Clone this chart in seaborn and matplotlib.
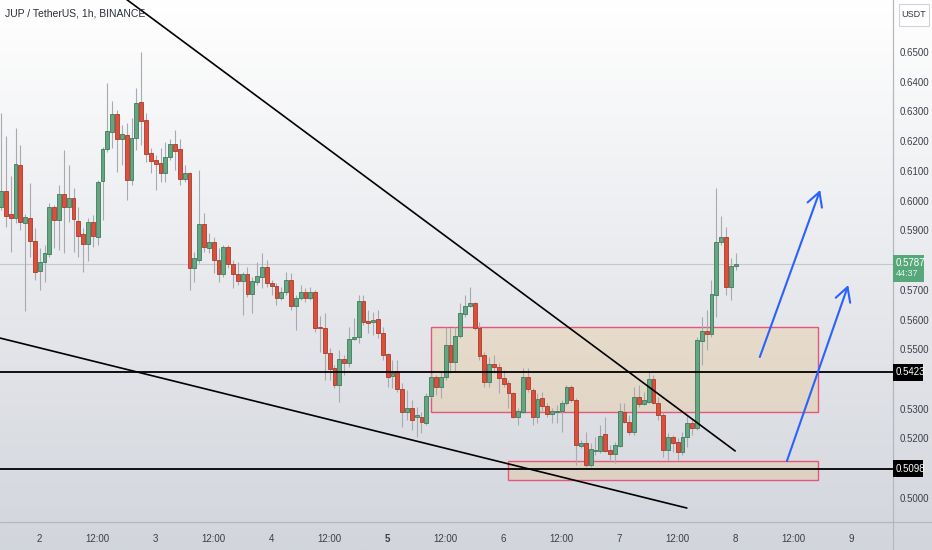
import numpy as np
import pandas as pd
import matplotlib
matplotlib.use("Agg")
import matplotlib.pyplot as plt
import seaborn as sns
from matplotlib.colors import LinearSegmentedColormap
from matplotlib.patches import Rectangle
from matplotlib.lines import Line2D

# ---------------- data: JUP/USDT 1h candles, hour 0 = day 2 00:00
hours = list(range(-8, 145))
opens = [0.5979, 0.6032, 0.5955, 0.5942, 0.6120, 0.5925, 0.5942, 0.5864, 0.5763, 0.5794,
         0.5821, 0.5979, 0.5935, 0.6022, 0.5979, 0.6009, 0.5932, 0.5888, 0.5854, 0.5928,
         0.5878, 0.6066, 0.6174, 0.6231, 0.6291, 0.6207, 0.6221, 0.6070, 0.6211, 0.6332,
         0.6271, 0.6160, 0.6137, 0.6127, 0.6093, 0.6147, 0.6191, 0.6174, 0.6073, 0.6093,
         0.5773, 0.5800, 0.5921, 0.5841, 0.5861, 0.5800, 0.5753, 0.5844, 0.5787, 0.5753,
         0.5730, 0.5753, 0.5686, 0.5726, 0.5743, 0.5777, 0.5723, 0.5713, 0.5673, 0.5693,
         0.5733, 0.5646, 0.5673, 0.5693, 0.5673, 0.5693, 0.5575, 0.5572, 0.5488, 0.5437,
         0.5380, 0.5467, 0.5454, 0.5535, 0.5541, 0.5662, 0.5595, 0.5592, 0.5602, 0.5555,
         0.5484, 0.5410, 0.5427, 0.5366, 0.5289, 0.5302, 0.5272, 0.5272, 0.5252, 0.5343,
         0.5407, 0.5373, 0.5407, 0.5514, 0.5457, 0.5545, 0.5619, 0.5646, 0.5656, 0.5572,
         0.5481, 0.5390, 0.5450, 0.5440, 0.5403, 0.5387, 0.5353, 0.5272, 0.5289, 0.5407,
         0.5363, 0.5272, 0.5336, 0.5309, 0.5282, 0.5289, 0.5292, 0.5319, 0.5373, 0.5329,
         0.5175, 0.5185, 0.5111, 0.5158, 0.5158, 0.5215, 0.5161, 0.5148, 0.5175, 0.5289,
         0.5255, 0.5222, 0.5339, 0.5316, 0.5323, 0.5400, 0.5319, 0.5279, 0.5161, 0.5205,
         0.5188, 0.5154, 0.5205, 0.5252, 0.5235, 0.5528, 0.5562, 0.5551, 0.5683, 0.5861,
         0.5878, 0.5710, 0.5780]
highs = [0.6295, 0.6218, 0.6083, 0.6244, 0.6187, 0.5955, 0.6059, 0.5908, 0.5841, 0.5851,
         0.5992, 0.5985, 0.6053, 0.6171, 0.6120, 0.6043, 0.5979, 0.5908, 0.5942, 0.5952,
         0.6070, 0.6180, 0.6396, 0.6335, 0.6305, 0.6255, 0.6261, 0.6278, 0.6379, 0.6500,
         0.6295, 0.6177, 0.6154, 0.6177, 0.6197, 0.6207, 0.6238, 0.6207, 0.6120, 0.6096,
         0.5827, 0.6103, 0.5958, 0.5891, 0.5878, 0.5841, 0.5851, 0.5851, 0.5800, 0.5794,
         0.5760, 0.5777, 0.5743, 0.5794, 0.5824, 0.5800, 0.5733, 0.5723, 0.5710, 0.5760,
         0.5757, 0.5683, 0.5716, 0.5706, 0.5710, 0.5699, 0.5612, 0.5622, 0.5504, 0.5447,
         0.5498, 0.5481, 0.5575, 0.5605, 0.5683, 0.5683, 0.5632, 0.5625, 0.5632, 0.5575,
         0.5488, 0.5464, 0.5464, 0.5387, 0.5363, 0.5329, 0.5306, 0.5289, 0.5353, 0.5420,
         0.5413, 0.5424, 0.5575, 0.5572, 0.5575, 0.5656, 0.5683, 0.5710, 0.5659, 0.5592,
         0.5491, 0.5474, 0.5481, 0.5454, 0.5430, 0.5397, 0.5356, 0.5302, 0.5437, 0.5437,
         0.5370, 0.5353, 0.5356, 0.5319, 0.5302, 0.5313, 0.5329, 0.5380, 0.5380, 0.5336,
         0.5195, 0.5222, 0.5185, 0.5205, 0.5245, 0.5272, 0.5178, 0.5188, 0.5319, 0.5319,
         0.5279, 0.5373, 0.5380, 0.5356, 0.5424, 0.5413, 0.5339, 0.5289, 0.5218, 0.5212,
         0.5202, 0.5222, 0.5279, 0.5269, 0.5541, 0.5609, 0.5632, 0.5733, 0.6043, 0.5948,
         0.5911, 0.5807, 0.5824]
lows = [0.5969, 0.5911, 0.5827, 0.5925, 0.5901, 0.5630, 0.5810, 0.5733, 0.5699, 0.5726,
        0.5810, 0.5841, 0.5834, 0.5824, 0.5928, 0.5827, 0.5810, 0.5760, 0.5797, 0.5844,
        0.5851, 0.5935, 0.6164, 0.6177, 0.6096, 0.6120, 0.6002, 0.6053, 0.6171, 0.6187,
        0.6130, 0.6093, 0.6036, 0.6063, 0.6063, 0.6137, 0.6103, 0.6053, 0.6063, 0.5699,
        0.5726, 0.5790, 0.5827, 0.5824, 0.5757, 0.5726, 0.5743, 0.5773, 0.5706, 0.5716,
        0.5615, 0.5676, 0.5622, 0.5716, 0.5706, 0.5710, 0.5683, 0.5649, 0.5666, 0.5683,
        0.5632, 0.5565, 0.5666, 0.5659, 0.5666, 0.5558, 0.5491, 0.5397, 0.5397, 0.5370,
        0.5323, 0.5414, 0.5440, 0.5531, 0.5521, 0.5582, 0.5555, 0.5548, 0.5538, 0.5464,
        0.5373, 0.5370, 0.5356, 0.5239, 0.5262, 0.5228, 0.5205, 0.5218, 0.5245, 0.5336,
        0.5346, 0.5336, 0.5397, 0.5420, 0.5424, 0.5538, 0.5609, 0.5642, 0.5565, 0.5464,
        0.5373, 0.5373, 0.5420, 0.5353, 0.5373, 0.5302, 0.5269, 0.5245, 0.5286, 0.5356,
        0.5245, 0.5252, 0.5289, 0.5272, 0.5252, 0.5252, 0.5222, 0.5313, 0.5323, 0.5111,
        0.5168, 0.5104, 0.5104, 0.5144, 0.5151, 0.5154, 0.5128, 0.5118, 0.5171, 0.5252,
        0.5212, 0.5212, 0.5306, 0.5313, 0.5319, 0.5316, 0.5262, 0.5138, 0.5128, 0.5154,
        0.5128, 0.5144, 0.5171, 0.5212, 0.5228, 0.5447, 0.5498, 0.5541, 0.5609, 0.5851,
        0.5683, 0.5666, 0.5767]
closes = [0.6032, 0.5948, 0.5942, 0.6123, 0.5928, 0.5945, 0.5864, 0.5760, 0.5794, 0.5824,
          0.5979, 0.5935, 0.6022, 0.5979, 0.6009, 0.5938, 0.5881, 0.5854, 0.5928, 0.5881,
          0.6063, 0.6174, 0.6234, 0.6291, 0.6207, 0.6224, 0.6070, 0.6211, 0.6329, 0.6268,
          0.6157, 0.6133, 0.6123, 0.6093, 0.6147, 0.6191, 0.6167, 0.6073, 0.6093, 0.5773,
          0.5807, 0.5921, 0.5844, 0.5861, 0.5800, 0.5753, 0.5844, 0.5787, 0.5753, 0.5730,
          0.5753, 0.5686, 0.5730, 0.5747, 0.5777, 0.5723, 0.5713, 0.5673, 0.5693, 0.5733,
          0.5646, 0.5673, 0.5693, 0.5673, 0.5693, 0.5572, 0.5572, 0.5488, 0.5434, 0.5380,
          0.5467, 0.5454, 0.5535, 0.5541, 0.5662, 0.5592, 0.5588, 0.5598, 0.5555, 0.5481,
          0.5407, 0.5420, 0.5366, 0.5289, 0.5302, 0.5262, 0.5279, 0.5255, 0.5343, 0.5407,
          0.5373, 0.5407, 0.5514, 0.5457, 0.5545, 0.5622, 0.5646, 0.5656, 0.5572, 0.5477,
          0.5390, 0.5450, 0.5440, 0.5403, 0.5383, 0.5353, 0.5272, 0.5292, 0.5407, 0.5366,
          0.5272, 0.5333, 0.5309, 0.5282, 0.5292, 0.5292, 0.5319, 0.5373, 0.5329, 0.5178,
          0.5185, 0.5111, 0.5165, 0.5161, 0.5208, 0.5158, 0.5148, 0.5178, 0.5292, 0.5255,
          0.5222, 0.5339, 0.5316, 0.5329, 0.5400, 0.5319, 0.5279, 0.5161, 0.5205, 0.5185,
          0.5154, 0.5205, 0.5252, 0.5235, 0.5531, 0.5562, 0.5551, 0.5686, 0.5861, 0.5878,
          0.5710, 0.5780, 0.5787]

time_ticks = list(range(0, 169, 12))
time_labels = ["2", "12:00", "3", "12:00", "4", "12:00", "5", "12:00",
               "6", "12:00", "7", "12:00", "8", "12:00", "9"]
price_ticks = [0.50, 0.52, 0.53, 0.55, 0.56, 0.57, 0.59, 0.60,
               0.61, 0.62, 0.63, 0.64, 0.65]

levels = [0.5423, 0.5098]
last_price = 0.5787
countdown = "44:37"

# drawings: (hour, price) anchors
upper_trend_x = [12.0, 143.9]
upper_trend_y = [0.6749, 0.5158]
lower_trend_x = [-10.0, 133.9]
lower_trend_y = [0.5545, 0.4966]

zone_x0 = [81.0, 96.9]
zone_x1 = [161.0, 161.0]
zone_lo = [0.5289, 0.5060]
zone_hi = [0.5576, 0.5124]

arrow_x0 = [149.0, 154.6]
arrow_y0 = [0.5474, 0.5124]
arrow_x1 = [161.5, 167.3]
arrow_y1 = [0.6036, 0.5716]

# ---------------- figure
sns.set_theme(style="white")
plt.rcParams["font.family"] = ["Liberation Sans Narrow", "Liberation Sans", "DejaVu Sans"]

W, H = 932, 550
fig = plt.figure(figsize=(W / 100, H / 100), dpi=100)

# tradingview-ish vertical gradient background
bg = fig.add_axes([0, 0, 1, 1], zorder=0)
grad = np.linspace(0, 1, 256).reshape(-1, 1)
cmap = LinearSegmentedColormap.from_list("tv", ["#ffffff", "#d2d5dc"])
bg.imshow(grad, aspect="auto", cmap=cmap, extent=[0, 1, 0, 1], origin="upper")
bg.axis("off")

ax = fig.add_axes([0, 28 / H, 893 / W, 522 / H], zorder=1)
ax.set_facecolor("none")
ax.set_xlim(-8.21, 176.56)
ax.set_ylim(0.4919, 0.6675)

df = pd.DataFrame({"hour": hours, "open": opens, "high": highs,
                   "low": lows, "close": closes})
up = df["close"] >= df["open"]
body_lo = df[["open", "close"]].min(axis=1)
body_h = (df["close"] - df["open"]).abs().clip(lower=0.00035)

ax.vlines(df["hour"], df["low"], df["high"], color="#a8aaaf", lw=0.8, zorder=3)
ax.bar(df["hour"][up], body_h[up], bottom=body_lo[up], width=0.78,
       color="#64a582", edgecolor="#3d7b5c", linewidth=0.6, zorder=4)
ax.bar(df["hour"][~up], body_h[~up], bottom=body_lo[~up], width=0.78,
       color="#dc4f3b", edgecolor="#aa3a2b", linewidth=0.6, zorder=4)

# last price line
ax.axhline(last_price, color="#c5c7cc", lw=0.8, zorder=2)

# zones
for x0, x1, lo, hi in zip(zone_x0, zone_x1, zone_lo, zone_hi):
    ax.add_patch(Rectangle((x0, lo), x1 - x0, hi - lo, facecolor=(1.0, 0.6, 0.0, 0.13),
                           edgecolor="#e4577c", lw=1.0, zorder=2))

# support levels and trend lines
for lv in levels:
    ax.axhline(lv, color="black", lw=1.3, zorder=5)
sns.lineplot(x=upper_trend_x, y=upper_trend_y, ax=ax, color="black", lw=1.2, zorder=5)
sns.lineplot(x=lower_trend_x, y=lower_trend_y, ax=ax, color="black", lw=1.2, zorder=5)

# projection arrows
for x0, y0, x1, y1 in zip(arrow_x0, arrow_y0, arrow_x1, arrow_y1):
    ax.annotate("", xy=(x1, y1), xytext=(x0, y0),
                arrowprops=dict(arrowstyle="->,head_length=1.0,head_width=0.55",
                                color="#2962ff", lw=1.5, shrinkA=0, shrinkB=0,
                                mutation_scale=10), zorder=6)

# axes, ticks
for s in ["top", "left"]:
    ax.spines[s].set_visible(False)
for s in ["right", "bottom"]:
    ax.spines[s].set_color("#b4b7be")
    ax.spines[s].set_linewidth(0.8)
ax.yaxis.tick_right()
ax.set_yticks(price_ticks, [f"{p:.4f}" for p in price_ticks])
ax.set_xticks(time_ticks, time_labels)
ax.tick_params(axis="y", length=0, pad=5, labelsize=7, labelcolor="#3c3f48")
ax.tick_params(axis="x", length=0, pad=9, labelsize=7, labelcolor="#3c3f48")
ax.get_xticklabels()[6].set_fontweight("bold")
ax.grid(False)
ax.set_xlabel("")
ax.set_ylabel("")

fig.add_artist(Line2D([893 / W, 893 / W], [0, 1], color="#b4b7be", lw=0.8))
fig.add_artist(Line2D([0, 1], [28 / H, 28 / H], color="#b4b7be", lw=0.8))

# price scale labels
pax = fig.add_axes([893 / W, 28 / H, 39 / W, 522 / H], zorder=2)
pax.set_xlim(0, 39)
pax.set_ylim(0.4919, 0.6675)
pax.axis("off")
px = 1 / 2973.0
for lv in levels:
    pax.add_patch(Rectangle((0, lv - 8.5 * px), 30, 17 * px, facecolor="black",
                            edgecolor="none"))
    pax.text(3, lv, f"{lv:.4f}", color="white", fontsize=7, va="center", ha="left")
pax.add_patch(Rectangle((0, last_price - 18 * px), 31, 27 * px, facecolor="#56a77a",
                        edgecolor="none"))
pax.text(3, last_price + 1 * px, f"{last_price:.4f}", color="white", fontsize=7,
         va="center", ha="left")
pax.text(3, last_price - 10 * px, countdown, color="#e3f2e8", fontsize=6.5,
         va="center", ha="left")
pax.add_patch(Rectangle((6, 0.6675 - 26 * px), 30, 22 * px, facecolor="white",
                        edgecolor="#d0d3da", lw=0.8))
pax.text(21, 0.6675 - 15 * px, "USDT", color="#333640", fontsize=6.5,
         va="center", ha="center")

fig.text(5 / W, 1 - 14 / H, "JUP / TetherUS, 1h, BINANCE", fontsize=7.5,
         color="#2a2e39", va="center", ha="left")

fig.savefig("out.png", dpi=100)
